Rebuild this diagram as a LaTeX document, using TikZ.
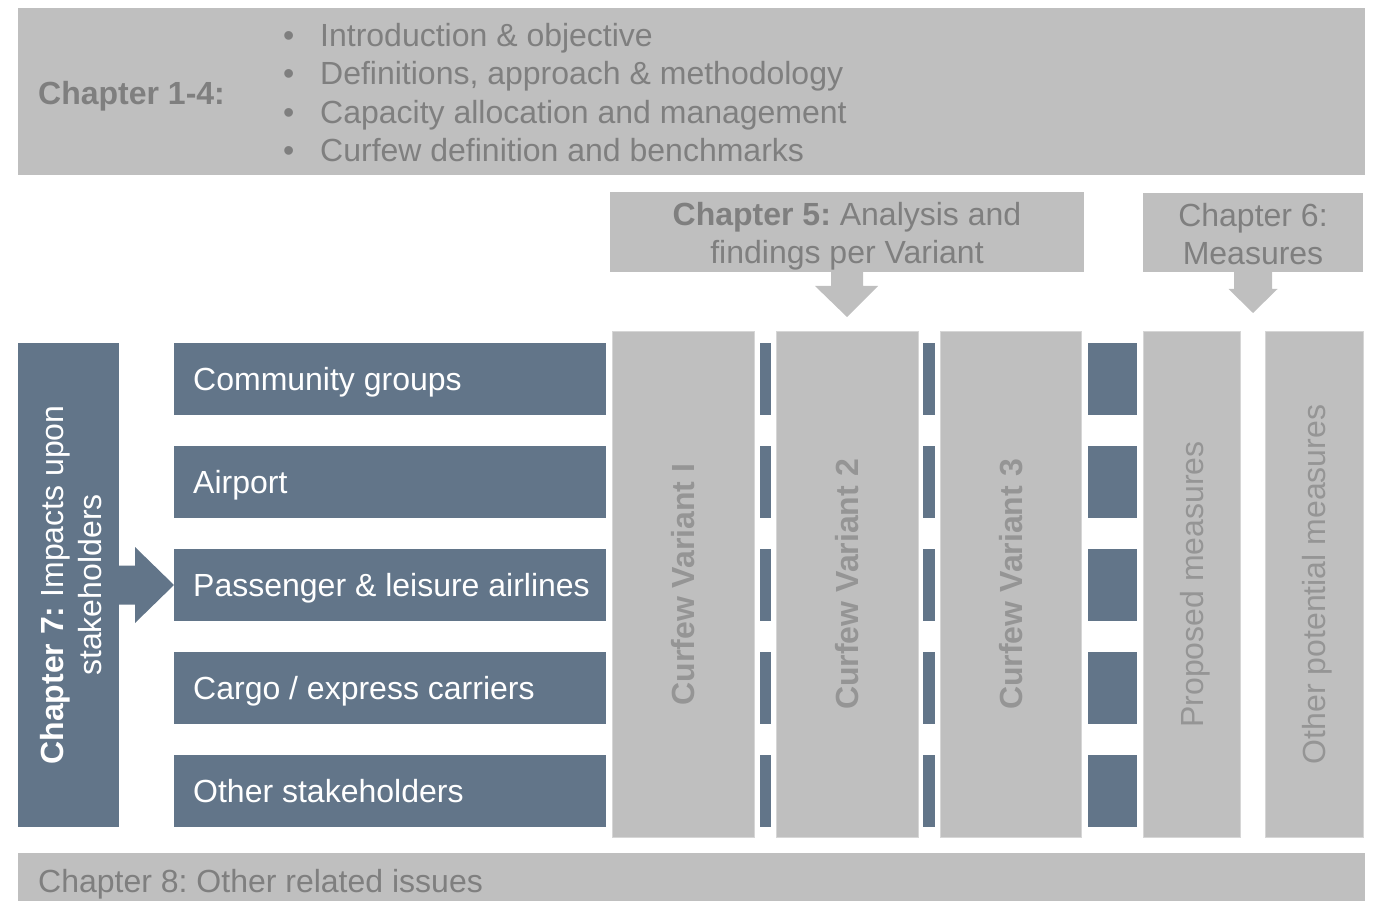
\documentclass[tikz,border=0pt]{standalone}
\usepackage{fontspec}
\setmainfont{Liberation Sans}
\usetikzlibrary{calc}
\definecolor{slate}{HTML}{627589}
\definecolor{lgray}{HTML}{BFBFBF}
\definecolor{tgray}{HTML}{7F7F7F}
\definecolor{cgray}{HTML}{959595}
\definecolor{edgegray}{HTML}{D6D6D6}
\newcommand\fsz{\fontsize{32}{38.3}\selectfont}
\frenchspacing
\begin{document}
\begin{tikzpicture}[x=1pt,y=-1pt,
  blk/.style={anchor=north west, inner sep=0pt, outer sep=0pt},
  graybox/.style={blk, fill=lgray},
  colbox/.style={blk, fill=lgray, draw=edgegray, line width=1pt},
  sbar/.style={blk, fill=slate, minimum width=432pt, minimum height=72pt},
  conn/.style={blk, fill=slate, minimum height=72pt},
  txt/.style={inner sep=0pt, font=\fsz, text height=23pt, text depth=0pt},
  wtxt/.style={txt, text=white, anchor=west},
  gtxt/.style={txt, text=tgray},
  ctxt/.style={txt, text=cgray, rotate=90}
]
\useasboundingbox (0,0) rectangle (1374,901);

% top box
\node[graybox, minimum width=1347pt, minimum height=167pt] (top) at (18,8) {};
\node[gtxt, anchor=west, font=\fsz\bfseries] (c14) at (38,93) {Chapter 1-4:};
\foreach \y/\t [count=\i] in {35/{Introduction \& objective},
  73/{Definitions, approach \& methodology},
  112/{Capacity allocation and management},
  150/{Curfew definition and benchmarks}}{
  \node[gtxt, anchor=west] (b\i) at (283,\y) {\textbullet};
  \node[gtxt, anchor=west] (l\i) at (320,\y) {\t};
}

% chapter 5 and 6 boxes
\node[graybox, minimum width=474pt, minimum height=80pt] (ch5) at (610,192) {};
\node[gtxt, align=center] (ch5t) at ($(ch5.center)+(0,20)$) {\textbf{Chapter 5:} Analysis and\\findings per Variant};
\node[graybox, minimum width=220pt, minimum height=79pt] (ch6) at (1143,193) {};
\node[gtxt, align=center] (ch6t) at ($(ch6.center)+(0,20.5)$) {Chapter 6:\\Measures};

% columns
\node[colbox, minimum width=142pt, minimum height=505pt] (v1) at (612,332) {};
\node[colbox, minimum width=142pt, minimum height=505pt] (v2) at (776,332) {};
\node[colbox, minimum width=141pt, minimum height=505pt] (v3) at (940,332) {};
\node[colbox, minimum width=97pt, minimum height=505pt] (pm) at (1143,332) {};
\node[colbox, minimum width=98pt, minimum height=505pt] (opm) at (1265,332) {};
\node[ctxt, font=\fsz\bfseries] at (v1.center) {Curfew Variant I};
\node[ctxt, font=\fsz\bfseries] at (v2.center) {Curfew Variant 2};
\node[ctxt, font=\fsz\bfseries] at (v3.center) {Curfew Variant 3};
\node[ctxt] at (pm.center) {Proposed measures};
\node[ctxt] at (opm.center) {Other potential measures};

% arrows from chapter 5 and 6
\coordinate (t5) at ($(ch5.south)+(0,45)$);
\fill[lgray] ($(ch5.south)+(-16,0)$) -- ($(ch5.south)+(-16,14)$) -- ($(ch5.south)+(-32,14)$)
  -- (t5) -- ($(ch5.south)+(31,14)$) -- ($(ch5.south)+(16,14)$) -- ($(ch5.south)+(16,0)$) -- cycle;
\coordinate (t6) at ($(ch6.south)+(0,41)$);
\fill[lgray] ($(ch6.south)+(-19,0)$) -- ($(ch6.south)+(-19,17)$) -- ($(ch6.south)+(-24.5,17)$)
  -- (t6) -- ($(ch6.south)+(24.5,17)$) -- ($(ch6.south)+(19,17)$) -- ($(ch6.south)+(19,0)$) -- cycle;

% chapter 7
\node[blk, fill=slate, minimum width=101pt, minimum height=484pt] (ch7) at (18,343) {};
\node[txt, text=white, rotate=90, align=center] (ch7t) at ($(ch7.center)+(21.5,0)$)
  {\textbf{Chapter 7:} Impacts upon\\stakeholders};

% stakeholder bars and connectors
\foreach \y/\nm/\t in {343/cg/{Community groups}, 446/ap/{Airport}, 549/pla/{Passenger \& leisure airlines},
  652/cec/{Cargo / express carriers}, 755/os/{Other stakeholders}}{
  \node[sbar] (\nm) at (174,\y) {};
  \node[wtxt] at ($(\nm.west)+(19,0)$) {\t};
  \node[conn, minimum width=11pt] (\nm a) at (760,\y) {};
  \node[conn, minimum width=12pt] (\nm b) at (923,\y) {};
  \node[conn, minimum width=49pt] (\nm c) at (1088,\y) {};
}

% chapter 7 arrow
\fill[slate] ($(ch7.east)+(-1,-19.5)$) -- ($(ch7.east)+(16,-19.5)$) -- ($(ch7.east)+(16,-38)$)
  -- (pla.west) -- ($(ch7.east)+(16,38)$) -- ($(ch7.east)+(16,19.5)$) -- ($(ch7.east)+(-1,19.5)$) -- cycle;

% bottom box
\node[graybox, minimum width=1347pt, minimum height=50pt] (bot) at (18,853) {};
\node[gtxt, anchor=west] (ch8) at (38,881) {Chapter 8: Other related issues};
\end{tikzpicture}
\end{document}
